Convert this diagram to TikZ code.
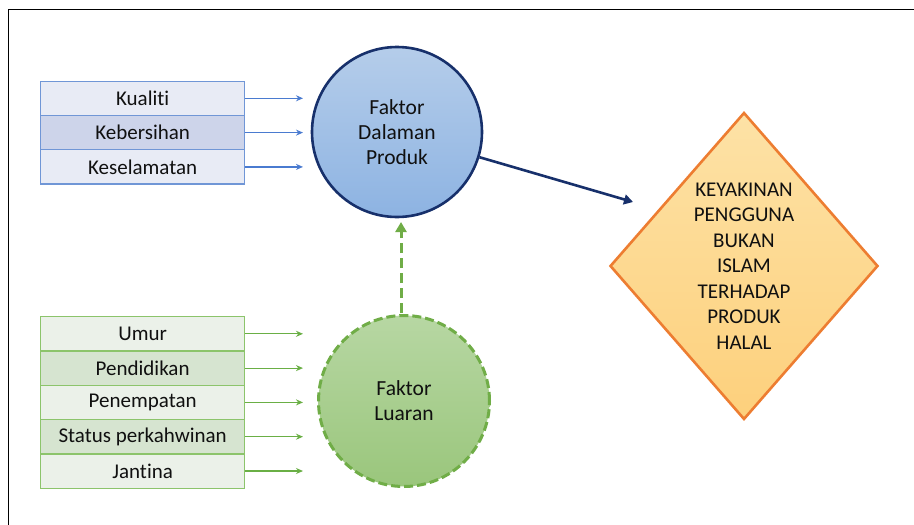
\documentclass[tikz,border=0pt]{standalone}
\usepackage{fontspec}
\setmainfont{Carlito}[Ligatures={NoCommon,NoDiscretionary,NoContextual}]
\usetikzlibrary{arrows.meta,shapes.geometric}

\definecolor{inkC}{HTML}{101010}
\definecolor{navyC}{HTML}{17306B}
\definecolor{blueEdge}{HTML}{7096D6}
\definecolor{blueLight}{HTML}{E8EBF5}
\definecolor{blueDark}{HTML}{CDD4EA}
\definecolor{blueArrow}{HTML}{4A7BD0}
\definecolor{blueTop}{HTML}{B5CDEA}
\definecolor{blueBot}{HTML}{8DB3E2}
\definecolor{greenEdge}{HTML}{8CC46B}
\definecolor{greenLight}{HTML}{EBF1E9}
\definecolor{greenDark}{HTML}{D6E4D0}
\definecolor{greenArrow}{HTML}{6AAF45}
\definecolor{greenLine}{HTML}{70AD47}
\definecolor{greenTop}{HTML}{B7D7A3}
\definecolor{greenBot}{HTML}{9AC67C}
\definecolor{orangeEdge}{HTML}{ED7D31}
\definecolor{goldTop}{HTML}{FDE2A6}
\definecolor{goldBot}{HTML}{FDD07C}

\tikzset{
  every node/.style={text=inkC, font=\fontsize{21}{25}\selectfont},
  bluebox/.style={draw=blueEdge, line width=1.3pt, minimum width=204pt,
    minimum height=34.3pt, inner sep=0pt, anchor=north west},
  greenbox/.style={draw=greenEdge, line width=1.3pt, minimum width=204pt,
    minimum height=34.3pt, inner sep=0pt, anchor=north west},
  bluefeed/.style={draw=blueArrow, line width=1.2pt, -{Stealth[length=7pt,width=6pt]}},
  greenfeed/.style={draw=greenArrow, line width=1.2pt, -{Stealth[length=7pt,width=6pt]}},
  bigcircle/.style={circle, minimum size=170pt, inner sep=0pt, align=center,
    font=\fontsize{21.5}{25}\selectfont}
}

\begin{document}
\begin{tikzpicture}[x=1pt, y=-1pt]
  \useasboundingbox (0,0) rectangle (914,525);
  \fill[white] (0,0) rectangle (914,525);

  % page frame (left and top edges)
  \draw[black, line width=1.4pt] (8.5,525) -- (8.5,9.5) -- (914,9.5);

  % product factors
  \node[bluebox, fill=blueLight] (kual) at (40,80.5)  {Kualiti};
  \node[bluebox, fill=blueDark]  (kebe) at (40,114.8) {Kebersihan};
  \node[bluebox, fill=blueLight] (kese) at (40,149.1) {Keselamatan};

  % external factors
  \node[greenbox, fill=greenLight] (umur) at (40,316)   {Umur};
  \node[greenbox, fill=greenDark]  (pend) at (40,350.3) {Pendidikan};
  \node[greenbox, fill=greenLight] (pene) at (40,384.6) {Penempatan};
  \node[greenbox, fill=greenDark]  (stat) at (40,418.9) {Status perkahwinan};
  \node[greenbox, fill=greenLight] (jant) at (40,453.2) {Jantina};

  % central factor circles
  \node[bigcircle, draw=navyC, line width=2.6pt, top color=blueTop, bottom color=blueBot]
    (dalam) at (397,132) {Faktor\\Dalaman\\Produk};
  \node[bigcircle, minimum size=171pt, draw=greenLine, line width=3pt,
    dash pattern=on 9pt off 4pt, top color=greenTop, bottom color=greenBot]
    (luar) at (404,401) {Faktor\\Luaran};

  % outcome
  \node[diamond, aspect=0.873, minimum width=268pt, minimum height=307pt, inner sep=0pt,
    draw=orangeEdge, line width=2.6pt, top color=goldTop, bottom color=goldBot,
    align=center, font=\fontsize{21}{25.5}\selectfont]
    (yakin) at (744,266) {KEYAKINAN\\PENGGUNA\\BUKAN\\ISLAM\\TERHADAP\\PRODUK\\HALAL};

  % arrow end points
  \coordinate (feedX) at (303,0);
  \coordinate (yakinE) at (633,202);
  \coordinate (luarTop) at (401,313);
  \coordinate (dalamBot) at (401,222);

  \foreach \b in {kual,kebe,kese}
    \draw[bluefeed] (\b.east) -- (\b.east -| feedX);
  \foreach \b in {umur,pend,pene,stat,jant}
    \draw[greenfeed] (\b.east) -- (\b.east -| feedX);

  % external -> product (dashed)
  \draw[draw=greenLine, line width=3pt, dash pattern=on 10pt off 5pt,
    -{Triangle[length=10pt,width=11pt]}] (luarTop) -- (dalamBot);

  % product -> outcome
  \draw[draw=navyC, line width=2.6pt, -{Triangle[length=9pt,width=10pt]}]
    (dalam.-17) -- (yakinE);
\end{tikzpicture}
\end{document}
